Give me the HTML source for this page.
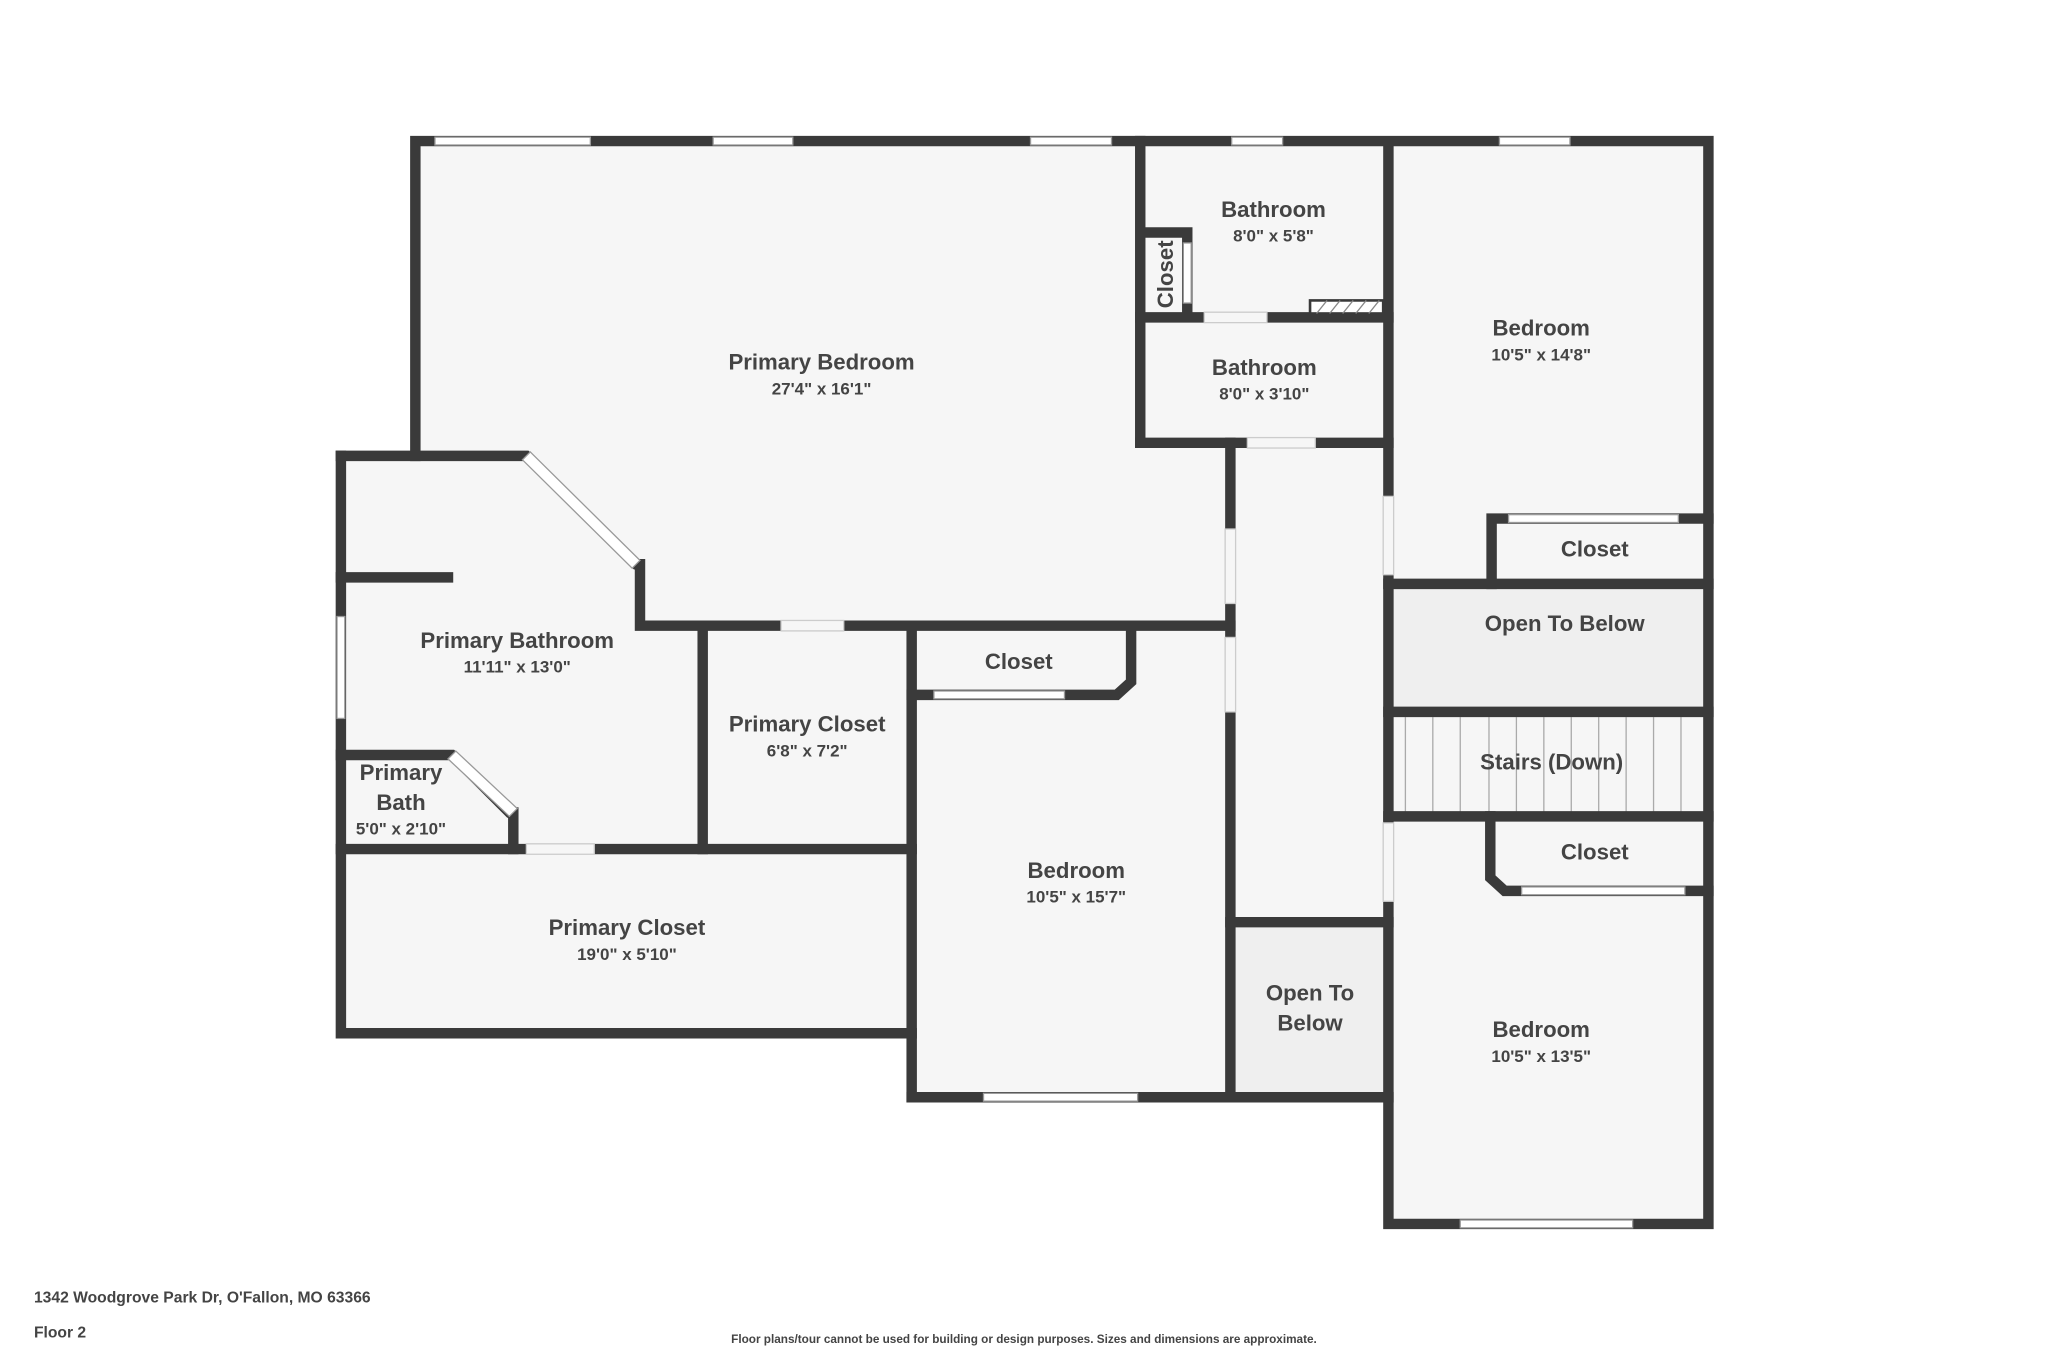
<!DOCTYPE html>
<html><head><meta charset="utf-8"><style>
html,body{margin:0;padding:0;background:#fff}
svg{display:block}
text{font-family:"Liberation Sans",sans-serif;font-weight:bold;fill:#444;text-anchor:middle}
.t{font-size:17px}.d{font-size:13px}
</style></head><body>
<svg width="2048" height="1365" viewBox="0 0 1568 1045" preserveAspectRatio="none">
<polygon points="318,108 1308,108 1308,937 1063,937 1063,840 698,840 698,791 261,791 261,349 318,349" fill="#f6f6f6"/>
<rect x="942" y="706" width="121" height="134" fill="#efefef"/>
<rect x="1063" y="447" width="245" height="98" fill="#efefef"/>
<g stroke="#aaa" stroke-width="1">
<line x1="1097" y1="549" x2="1097" y2="622"/><line x1="1118" y1="549" x2="1118" y2="622"/><line x1="1140" y1="549" x2="1140" y2="622"/><line x1="1161" y1="549" x2="1161" y2="622"/><line x1="1182" y1="549" x2="1182" y2="622"/><line x1="1203" y1="549" x2="1203" y2="622"/><line x1="1224" y1="549" x2="1224" y2="622"/><line x1="1245" y1="549" x2="1245" y2="622"/><line x1="1266" y1="549" x2="1266" y2="622"/><line x1="1287" y1="549" x2="1287" y2="622"/><line x1="1076" y1="549" x2="1076" y2="622"/>
</g>
<g stroke="#3a3a3a" stroke-width="8" fill="none" stroke-linecap="square" stroke-linejoin="miter">
<polyline points="318,349 318,108 1308,108 1308,937 1063,937 1063,108"/>
<polyline points="261,349 403,349 487,432 490,432 490,479 942,479"/>
<polyline points="261,349 261,791 698,791"/>
<line x1="873" y1="108" x2="873" y2="339"/>
<line x1="873" y1="339" x2="1063" y2="339"/>
<line x1="873" y1="243" x2="1063" y2="243"/>
<polyline points="879,178 909,178 909,241"/>
<line x1="942" y1="339" x2="942" y2="840"/>
<line x1="942" y1="706" x2="1063" y2="706"/>
<line x1="698" y1="840" x2="1063" y2="840"/>
<polyline points="1142,447 1142,397 1308,397"/>
<line x1="1063" y1="447" x2="1308" y2="447"/>
<line x1="1063" y1="545" x2="1308" y2="545"/>
<line x1="1063" y1="625" x2="1308" y2="625"/>
<polyline points="1141,625 1141,672 1152,682 1308,682"/>
<line x1="261" y1="442" x2="343" y2="442"/>
<polyline points="261,578 346,578 390,622 393,622 393,650"/>
<line x1="261" y1="650" x2="698" y2="650"/>
<line x1="538" y1="479" x2="538" y2="650"/>
<line x1="698" y1="479" x2="698" y2="840"/>
<polyline points="698,532 855,532 866,522 866,484"/>
</g>
<rect x="1003" y="230" width="56" height="10" fill="#fff" stroke="#3a3a3a" stroke-width="2"/>
<g stroke="#888" stroke-width="1">
<line x1="1008" y1="240" x2="1016" y2="230"/><line x1="1018" y1="240" x2="1026" y2="230"/><line x1="1028" y1="240" x2="1036" y2="230"/><line x1="1038" y1="240" x2="1046" y2="230"/><line x1="1048" y1="240" x2="1056" y2="230"/>
</g>
<g fill="#fff" stroke="#999" stroke-width="1">
<rect x="333" y="105" width="119" height="6"/><rect x="546" y="105" width="61" height="6"/><rect x="789" y="105" width="62" height="6"/><rect x="943" y="105" width="39" height="6"/><rect x="1148" y="105" width="54" height="6"/>
<rect x="1118" y="934" width="132" height="6"/><rect x="753" y="837" width="118" height="6"/>
<rect x="258" y="472" width="6" height="78"/>
<rect x="1155" y="394" width="130" height="6"/><rect x="1165" y="679" width="125" height="6"/>
<rect x="715" y="529" width="100" height="6"/>
<rect x="906" y="186" width="6" height="46"/>
</g>
<polygon points="406,346 490,429 484,435 400,352" fill="#fff" stroke="#999" stroke-width="1"/>
<polygon points="349,575 396,619 390,625 343,581" fill="#fff" stroke="#999" stroke-width="1"/>
<g fill="#f6f6f6" stroke="#ccc" stroke-width="1">
<rect x="598" y="475" width="48" height="8"/><rect x="403" y="646" width="52" height="8"/>
<rect x="922" y="239" width="48" height="8"/><rect x="955" y="335" width="52" height="8"/>
<rect x="938" y="405" width="8" height="57"/><rect x="938" y="488" width="8" height="57"/>
<rect x="1059" y="380" width="8" height="60"/><rect x="1059" y="630" width="8" height="60"/>
</g>
<text class="t" x="629" y="283">Primary Bedroom</text><text class="d" x="629" y="302">27'4" x 16'1"</text>
<text class="t" x="975" y="166">Bathroom</text><text class="d" x="975" y="185">8'0" x 5'8"</text>
<text class="t" x="968" y="287">Bathroom</text><text class="d" x="968" y="306">8'0" x 3'10"</text>
<text class="t" x="0" y="0" transform="translate(898,210) rotate(-90)">Closet</text>
<text class="t" x="1180" y="257">Bedroom</text><text class="d" x="1180" y="276">10'5" x 14'8"</text>
<text class="t" x="1221" y="426">Closet</text>
<text class="t" x="1198" y="483">Open To Below</text>
<text class="t" x="1188" y="589">Stairs (Down)</text>
<text class="t" x="1221" y="658">Closet</text>
<text class="t" x="1180" y="794">Bedroom</text><text class="d" x="1180" y="813">10'5" x 13'5"</text>
<text class="t" x="1003" y="766">Open To</text><text class="t" x="1003" y="789">Below</text>
<text class="t" x="824" y="672">Bedroom</text><text class="d" x="824" y="691">10'5" x 15'7"</text>
<text class="t" x="780" y="512">Closet</text>
<text class="t" x="618" y="560">Primary Closet</text><text class="d" x="618" y="579">6'8" x 7'2"</text>
<text class="t" x="396" y="496">Primary Bathroom</text><text class="d" x="396" y="515">11'11" x 13'0"</text>
<text class="t" x="307" y="597">Primary</text><text class="t" x="307" y="620">Bath</text><text class="d" x="307" y="639">5'0" x 2'10"</text>
<text class="t" x="480" y="716">Primary Closet</text><text class="d" x="480" y="735">19'0" x 5'10"</text>
<text x="26" y="997" style="font-size:12px;text-anchor:start">1342 Woodgrove Park Dr, O'Fallon, MO 63366</text>
<text x="26" y="1024" style="font-size:12px;text-anchor:start">Floor 2</text>
<text x="784" y="1028" style="font-size:9px">Floor plans/tour cannot be used for building or design purposes. Sizes and dimensions are approximate.</text>
</svg>
</body></html>
